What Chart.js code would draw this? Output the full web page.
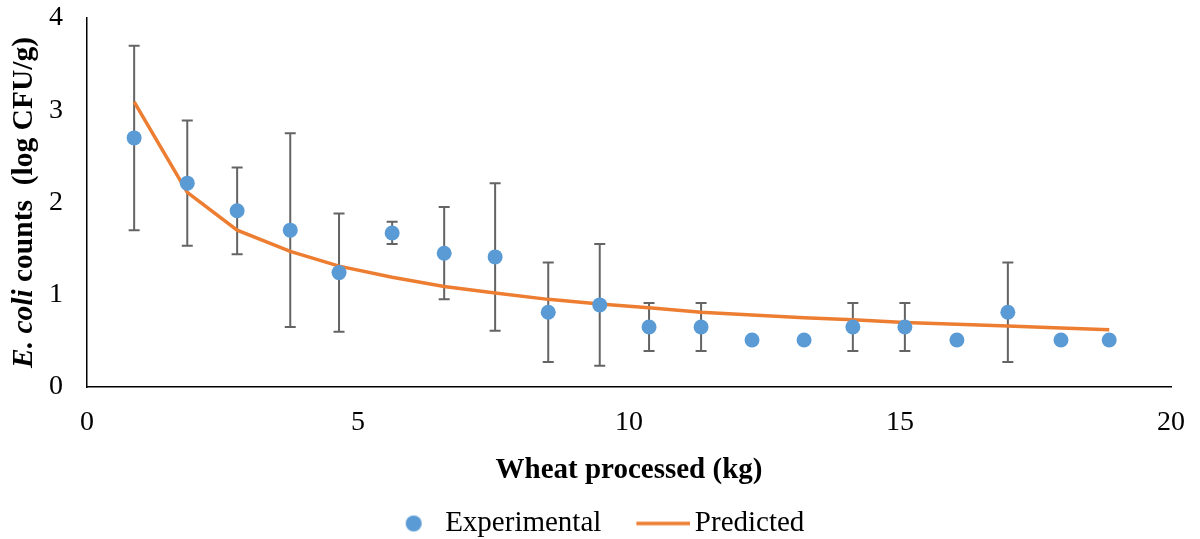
<!DOCTYPE html>
<html>
<head>
<meta charset="utf-8">
<script src="https://cdn.jsdelivr.net/npm/chart.js@4/dist/chart.umd.min.js"></script>
<style>
  html, body { margin: 0; padding: 0; background: #ffffff; }
  #wrap { width: 1200px; height: 539px; position: relative; }
</style>
</head>
<body>
<div id="wrap"><canvas id="c" width="1200" height="539"></canvas></div>
<script>
// ---- Data ----
const wheatKg = [0.87, 1.85, 2.77, 3.75, 4.65, 5.63, 6.59, 7.53, 8.51, 9.46, 10.37, 11.33, 12.27, 13.23, 14.13, 15.09, 16.05, 16.99, 17.97, 18.86];
const experimental = [2.70, 2.21, 1.91, 1.70, 1.24, 1.67, 1.45, 1.41, 0.81, 0.89, 0.65, 0.65, 0.51, 0.51, 0.65, 0.65, 0.51, 0.81, 0.51, 0.51];
const errorSD = [1.00, 0.68, 0.47, 1.05, 0.64, 0.12, 0.50, 0.80, 0.54, 0.66, 0.26, 0.26, 0, 0, 0.26, 0.26, 0, 0.54, 0, 0];
const predicted = [3.09, 2.11, 1.70, 1.47, 1.31, 1.19, 1.09, 1.02, 0.95, 0.90, 0.86, 0.81, 0.78, 0.75, 0.73, 0.70, 0.68, 0.66, 0.64, 0.62];
const xTicks = [0, 5, 10, 15, 20];
const yTicks = [0, 1, 2, 3, 4];
const seriesNames = ['Experimental', 'Predicted'];
const axisTitles = { x: 'Wheat processed (kg)', yItalic: 'E. coli', yRest: ' counts  (log CFU/g)' };

// ---- Styles ----
const BLUE = '#5B9BD5';
const ORANGE = '#ED7D31';
const ERR = '#646464';
const FONT = '"Liberation Serif", "Times New Roman", serif';

// legend marker images
function circleImg() {
  const c = document.createElement('canvas');
  c.width = 54; c.height = 18;
  const g = c.getContext('2d');
  g.fillStyle = BLUE;
  g.beginPath(); g.arc(37, 9, 8, 0, Math.PI * 2); g.fill();
  return c;
}
function lineImg() {
  const c = document.createElement('canvas');
  c.width = 74; c.height = 6;
  const g = c.getContext('2d');
  g.strokeStyle = ORANGE; g.lineWidth = 3.5;
  g.beginPath(); g.moveTo(20, 3); g.lineTo(74, 3); g.stroke();
  return c;
}
const legendMarkers = [circleImg(), lineImg()];

const errorBars = {
  id: 'errorBars',
  beforeDatasetsDraw(chart) {
    const { ctx, scales: { x, y } } = chart;
    ctx.save();
    ctx.strokeStyle = ERR;
    ctx.lineWidth = 2;
    wheatKg.forEach((kg, i) => {
      const e = errorSD[i];
      if (!e) return;
      const px = x.getPixelForValue(kg);
      const top = y.getPixelForValue(experimental[i] + e);
      const bot = y.getPixelForValue(experimental[i] - e);
      ctx.beginPath();
      ctx.moveTo(px, top); ctx.lineTo(px, bot);
      ctx.moveTo(px - 5.5, top); ctx.lineTo(px + 5.5, top);
      ctx.moveTo(px - 5.5, bot); ctx.lineTo(px + 5.5, bot);
      ctx.stroke();
    });
    ctx.restore();
  }
};

const yTitle = {
  id: 'yTitle',
  afterDraw(chart) {
    const { ctx, chartArea } = chart;
    const cy = (chartArea.top + chartArea.bottom) / 2;
    ctx.save();
    ctx.translate(24, cy);
    ctx.rotate(-Math.PI / 2);
    ctx.fillStyle = '#000';
    ctx.textBaseline = 'middle';
    const f1 = 'italic bold 29.5px ' + FONT;
    const f2 = 'bold 29.5px ' + FONT;
    ctx.font = f1; const w1 = ctx.measureText(axisTitles.yItalic).width;
    ctx.font = f2; const w2 = ctx.measureText(axisTitles.yRest).width;
    let start = -(w1 + w2) / 2;
    ctx.textAlign = 'left';
    ctx.font = f1; ctx.fillText(axisTitles.yItalic, start, 0);
    ctx.font = f2; ctx.fillText(axisTitles.yRest, start + w1, 0);
    ctx.restore();
  }
};

new Chart(document.getElementById('c'), {
  type: 'scatter',
  data: {
    datasets: [
      {
        label: seriesNames[0],
        data: wheatKg.map((kg, i) => ({ x: kg, y: experimental[i] })),
        backgroundColor: BLUE,
        borderColor: BLUE,
        pointRadius: 7.5,
        pointHoverRadius: 7.5,
        borderWidth: 0,
        showLine: false,
        order: 0
      },
      {
        label: seriesNames[1],
        type: 'line',
        data: wheatKg.map((kg, i) => ({ x: kg, y: predicted[i] })),
        borderColor: ORANGE,
        backgroundColor: ORANGE,
        borderWidth: 3.5,
        pointRadius: 0,
        tension: 0,
        fill: false,
        order: 1
      }
    ]
  },
  options: {
    responsive: false,
    animation: false,
    events: [],
    layout: { padding: { left: 10, right: 29, top: 18, bottom: -9 } },
    plugins: {
      tooltip: { enabled: false },
      legend: {
        position: 'bottom',
        labels: {
          usePointStyle: true,
          pointStyleWidth: 54,
          padding: 25,
          color: '#000',
          font: { family: FONT, size: 29 },
          generateLabels(chart) {
            return chart.data.datasets.map((ds, i) => ({
              text: ds.label,
              pointStyle: legendMarkers[i],
              fillStyle: ds.backgroundColor,
              strokeStyle: ds.borderColor,
              lineWidth: 0,
              hidden: false,
              datasetIndex: i,
              fontColor: '#000'
            }));
          }
        }
      }
    },
    scales: {
      x: {
        type: 'linear',
        min: 0, max: 20,
        afterBuildTicks(s) { s.ticks = xTicks.map(v => ({ value: v })); },
        afterFit(s) { s.height = 97; s.paddingLeft = 0; s.paddingRight = 0; },
        grid: { display: false, drawTicks: false },
        border: { display: true, color: '#000', width: 1.5 },
        ticks: { color: '#000', padding: 19, font: { family: FONT, size: 28 }, maxRotation: 0 },
        title: { display: true, text: axisTitles.x, color: '#000', font: { family: FONT, size: 29, weight: 'bold' }, padding: { top: 4, bottom: -4 } }
      },
      y: {
        type: 'linear',
        min: 0, max: 4,
        afterBuildTicks(s) { s.ticks = yTicks.map(v => ({ value: v })); },
        afterFit(s) { s.width = 77; s.paddingTop = 0; s.paddingBottom = 0; },
        grid: { display: false, drawTicks: false },
        border: { display: true, color: '#000', width: 1.5 },
        ticks: { color: '#000', padding: 24, font: { family: FONT, size: 28 } }
      }
    }
  },
  plugins: [errorBars, yTitle]
});
</script>
</body>
</html>
